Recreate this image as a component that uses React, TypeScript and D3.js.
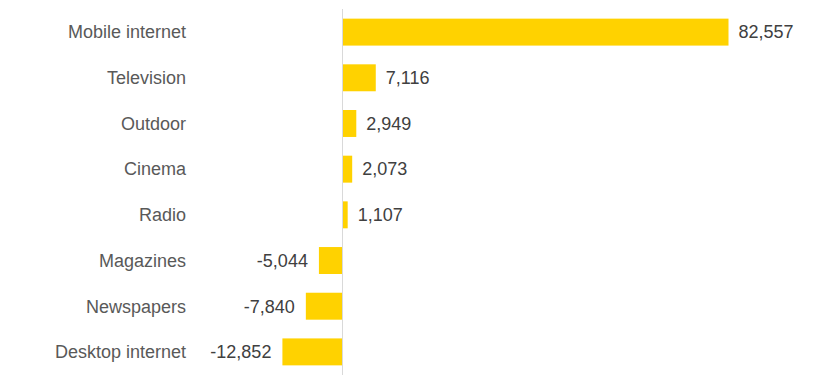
import React from "react";
import * as d3 from "d3";

const categories = ["Mobile internet", "Television", "Outdoor", "Cinema", "Radio", "Magazines", "Newspapers", "Desktop internet"];
const values = [82557, 7116, 2949, 2073, 1107, -5044, -7840, -12852];

const W = 827, H = 390;
const zeroX = 342.5;
const scaleK = 386 / 82557;

export default function App() {
  const x = d3.scaleLinear().domain([-12852, 82557]).range([zeroX - 12852 * scaleK, zeroX + 82557 * scaleK]);
  const y = d3.scaleBand<string>().domain(categories).range([9.5, 374.5]).paddingInner(0.41).paddingOuter(0.2);
  const fmt = (v: number) => d3.format(",")(v).replace("\u2212", "-");
  const font = "'Liberation Sans', Arial, sans-serif";
  return (
    <svg width={W} height={H} style={{ position: "absolute", left: 0, top: 0, background: "#fff" }}>
      {categories.map((c, i) => {
        const v = values[i];
        const x0 = x(Math.min(0, v));
        const x1 = x(Math.max(0, v));
        const yc = (y(c) as number) + y.bandwidth() / 2;
        return (
          <g key={c}>
            <rect x={x0} y={y(c)} width={x1 - x0} height={y.bandwidth()} fill="#FFD200" />
            <text x={186} y={yc} dy="0.35em" textAnchor="end" fontFamily={font} fontSize={18} fill="#595959">{c}</text>
            <text x={v >= 0 ? x1 + 10 : x0 - 11} y={yc} dy="0.35em" textAnchor={v >= 0 ? "start" : "end"} fontFamily={font} fontSize={18} fill="#404040">{fmt(v)}</text>
          </g>
        );
      })}
      <line x1={x(0)} x2={x(0)} y1={9} y2={375} stroke="#d9d9d9" strokeWidth={1} />
    </svg>
  );
}
